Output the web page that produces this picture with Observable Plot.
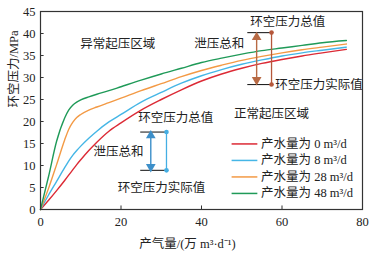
<!DOCTYPE html>
<html><head><meta charset="utf-8">
<script src="https://cdn.jsdelivr.net/npm/d3@7"></script>
<script src="https://cdn.jsdelivr.net/npm/@observablehq/plot@0.6"></script>
<style>
html,body{margin:0;padding:0;background:#fff;}
</style>
</head><body><div id="chart"></div>
<script>
const gasRate = [0, 2, 4, 6, 7, 8, 9, 10, 12, 14, 17, 20, 25, 30, 35, 40, 45, 50, 55, 60, 65, 70, 76];
const p0  = [0, 2.1, 4.3, 6.6, 7.8, 9.0, 10.2, 11.3, 13.4, 15.3, 17.8, 19.7, 22.6, 25.0, 27.2, 29.2, 30.8, 32.1, 33.2, 34.1, 34.9, 35.6, 36.4];
const p8  = [0, 3.3, 6.4, 9.5, 11.0, 12.3, 13.4, 14.4, 16.2, 17.8, 19.9, 21.6, 24.4, 26.6, 28.7, 30.4, 31.8, 33.0, 34.0, 34.9, 35.6, 36.2, 36.9];
const p28 = [0, 4.8, 10.2, 15.8, 18.2, 19.8, 20.9, 21.6, 22.6, 23.3, 24.3, 25.3, 27.0, 28.6, 30.2, 31.6, 32.8, 33.9, 34.8, 35.6, 36.3, 36.9, 37.6];
const p48 = [0, 7.5, 15.5, 20.8, 22.6, 23.7, 24.4, 24.9, 25.6, 26.2, 27.0, 27.9, 29.4, 30.8, 32.1, 33.4, 34.4, 35.3, 36.1, 36.7, 37.3, 37.9, 38.4];
const seriesNames = ["产水量为 0 m³/d", "产水量为 8 m³/d", "产水量为 28 m³/d", "产水量为 48 m³/d"];
const seriesValues = [p0, p8, p28, p48];
const seriesColors = ["#dc2a35", "#45b6e6", "#f39a45", "#1f9a58"];
const xTicks = [0, 20, 40, 60, 80];
const yTicks = [0, 5, 10, 15, 20, 25, 30, 35, 40, 45];

const regionLabels = [
  {x: 19.2, y: 37.7, t: "异常起压区域"},
  {x: 57.4, y: 21.6, t: "正常起压区域"}
];
const bracketTop = {xl: 51.5, xa: 53.7, xr: 57.4, yHi: 40.2, yLo: 28.4};
const bracketLow = {xl: 24.9, xa: 27.4, xr: 31.3, yHi: 17.6, yLo: 8.9};
const textsMiddle = [{x: 61.4, y: 42.6, t: "环空压力总值"}];
const textsEnd = [{x: 50.6, y: 37.7, t: "泄压总和"}, {x: 25.6, y: 13.0, t: "泄压总和"}];
const textsStart = [
  {x: 58.3, y: 28.4, t: "环空压力实际值"},
  {x: 24.3, y: 20.9, t: "环空压力总值"},
  {x: 19.2, y: 5.0, t: "环空压力实际值"}
];
const legendX = [47.6, 54.0, 54.8];
const legendY0 = 14.9, legendStep = 3.75;

const rows = [];
seriesValues.forEach((vals, si) => vals.forEach((v, i) => rows.push({s: seriesNames[si], x: gasRate[i], y: v})));
const legendRows = seriesNames.map((s, i) => ({s, y: legendY0 - i * legendStep, c: seriesColors[i]}));

const font = "'Liberation Serif', 'Noto Sans CJK SC', serif";
const fs = 12.5;

function bracket(b, arrowColor, lineColor) {
  const rng = b.yHi - b.yLo;
  return [
    Plot.ruleY([b.yHi, b.yLo], {x1: b.xl, x2: b.xr, stroke: "#222", strokeWidth: 1.1}),
    Plot.ruleX([b.xa], {y1: b.yLo + rng * 0.05, y2: b.yHi - rng * 0.05, stroke: arrowColor, strokeWidth: 1.4}),
    Plot.dot([b.yHi], {x: b.xa, y: d => d - rng * 0.09, symbol: "triangle", r: 3.6, fill: arrowColor, stroke: "none"}),
    Plot.dot([b.yLo], {x: b.xa, y: d => d + rng * 0.09, symbol: "triangle", r: 3.6, fill: arrowColor, stroke: "none", rotate: 180}),
    Plot.ruleX([b.xr], {y1: b.yLo, y2: b.yHi, stroke: lineColor, strokeWidth: 1.3}),
    Plot.dot([b.yHi, b.yLo], {x: b.xr, y: d => d, r: 2.3, fill: lineColor, stroke: "none"})
  ];
}

const chart = Plot.plot({
  width: 377, height: 262,
  marginLeft: 40, marginRight: 15, marginTop: 11, marginBottom: 53,
  style: {fontFamily: font, fontSize: fs + "px", background: "#fff", color: "#222"},
  x: {domain: [0, 80]},
  y: {domain: [0, 45]},
  color: {domain: seriesNames, range: seriesColors},
  marks: [
    Plot.line(rows, {x: "x", y: "y", z: "s", stroke: "s", strokeWidth: 1.4, curve: "monotone-x"}),
    ...bracket(bracketTop, "#b86a44", "#b5573a"),
    ...bracket(bracketLow, "#3d8fc9", "#44aee3"),
    Plot.text(regionLabels, {x: "x", y: "y", text: "t", textAnchor: "middle", fontSize: fs, fill: "#222"}),
    Plot.text(textsMiddle, {x: "x", y: "y", text: "t", textAnchor: "middle", fontSize: fs, fill: "#222"}),
    Plot.text(textsEnd, {x: "x", y: "y", text: "t", textAnchor: "end", fontSize: fs, fill: "#222"}),
    Plot.text(textsStart, {x: "x", y: "y", text: "t", textAnchor: "start", fontSize: fs, fill: "#222"}),
    Plot.ruleY(legendRows, {y: "y", x1: legendX[0], x2: legendX[1], stroke: "c", strokeWidth: 1.5}),
    Plot.text(legendRows, {x: legendX[2], y: "y", text: "s", textAnchor: "start", fontSize: fs, fill: "#222"}),
    Plot.ruleX(xTicks.slice(1, -1), {y1: 0, y2: 0.8, stroke: "#333"}),
    Plot.ruleY(yTicks.slice(1, -1), {x1: 0, x2: 0.9, stroke: "#333"}),
    Plot.frame({stroke: "#333", strokeWidth: 1.2}),
    Plot.axisX(xTicks, {tickSize: 0, tickPadding: 8, fontSize: fs, label: null, tickFormat: d => d}),
    Plot.axisY(yTicks, {tickSize: 0, tickPadding: 5, fontSize: fs, label: null, tickFormat: d => d}),
    Plot.text(["产气量/(万 m³·d⁻¹)"], {frameAnchor: "bottom", dy: 38, dx: -14, fontSize: fs, fill: "#222"}),
    Plot.text(["环空压力/MPa"], {frameAnchor: "left", rotate: -90, dx: -27, dy: -3, fontSize: fs, fill: "#222"})
  ]
});
document.getElementById("chart").appendChild(chart);
</script>
</body></html>
